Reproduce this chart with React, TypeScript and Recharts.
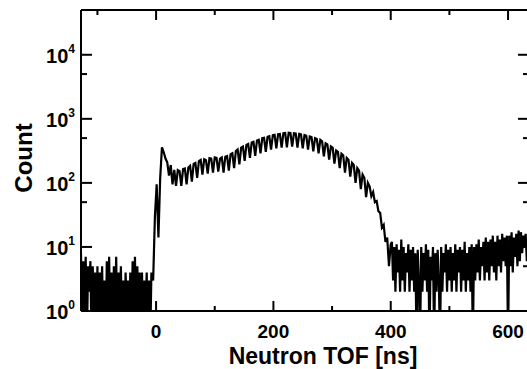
import { LineChart, Line, XAxis, YAxis } from 'recharts';

// histogram counts (0 = empty bin); bins are given per segment
const preStart = -128;
const preStep = 2;
const preCounts = [
  8, 0, 6, 1, 7, 0, 5, 2, 6, 0, 5, 1, 4, 0, 5, 0, 4, 1, 5, 0,
  3, 0, 6, 1, 7, 0, 4, 0, 5, 1, 7, 0, 4, 1, 5, 0, 3, 0, 4, 1,
  3, 0, 4, 0, 6, 1, 7, 0, 5, 1, 4, 0, 4, 0, 3, 1, 4, 0, 3, 0, 4,
];

const promptStart = -5;
const promptStep = 3;
const promptCounts = [3, 30, 95, 14, 120, 360, 300, 240, 210, 130, 190, 95];

const bumpStart = 31;
const bumpStep = 3;
const bumpCounts = [
  160, 90, 158, 152, 90, 164, 168, 95, 174,
  185, 105, 198, 205, 120, 218, 228, 135, 234,
  226, 140, 244, 240, 145, 250, 246, 150, 240,
  250, 145, 256, 262, 155, 280, 290, 170, 315,
  332, 195, 356, 370, 220, 392, 405, 245, 425,
  436, 265, 460, 472, 290, 500, 505, 305, 525,
  536, 330, 555, 562, 345, 576, 580, 355, 596,
  600, 360, 606, 600, 370, 596, 590, 355, 580,
  570, 345, 560, 545, 330, 530, 520, 310, 500,
  485, 290, 470, 445, 260, 415, 400, 230, 370,
  355, 200, 320, 305, 170, 285, 270, 145, 245,
  230, 125, 205, 190, 100, 170, 155, 80, 135,
  120, 60, 100,
];

const tailStart = 364;
const tailStep = 3;
const tailCounts = [88, 62, 72, 50, 52, 36, 34, 20, 22, 12, 14, 5, 11];

const bgStart = 402;
const bgStep = 2;
const bgCounts = [
  12, 3, 10, 2, 11, 4, 9, 2, 13, 3,
  10, 2, 8, 4, 11, 2, 9, 3, 10, 2,
  8, 0, 9, 3, 0, 10, 2, 8, 3, 11,
  2, 9, 0, 7, 3, 10, 0, 8, 2, 9,
  3, 0, 10, 2, 8, 4, 11, 2, 9, 3,
  10, 2, 8, 3, 11, 2, 9, 4, 10, 2,
  9, 3, 12, 2, 8, 3, 10, 2, 11, 0,
  10, 3, 11, 4, 13, 3, 10, 5, 12, 3,
  14, 4, 12, 3, 13, 5, 15, 4, 12, 3,
  15, 5, 13, 4, 16, 6, 14, 5, 15, 0,
  15, 5, 17, 4, 14, 7, 16, 5, 18, 6,
  17, 8, 15, 10, 16, 6, 12,
];

const xTicks = [-100, 0, 100, 200, 300, 400, 500, 600];
const xLabels = [0, 200, 400, 600];
const yTicks = [1, 5, 10, 50, 100, 500, 1000, 5000, 10000];
const yLabels = [1, 10, 100, 1000, 10000];

const segments: [number, number, number[]][] = [
  [preStart, preStep, preCounts],
  [promptStart, promptStep, promptCounts],
  [bumpStart, bumpStep, bumpCounts],
  [tailStart, tailStep, tailCounts],
  [bgStart, bgStep, bgCounts],
];

// empty bins can't sit on a log axis, park them below the floor (clipped)
const data = segments.flatMap(([start, step, counts]) =>
  counts.map((c, i) => ({ t: start + i * step, count: c > 0 ? c : 0.3 }))
);

const W = 530;
const H = 369;
const L = 81;
const R = 528;
const T = 10;
const B = 311;
const font = '"Liberation Sans", Arial, sans-serif';

const BottomTick = ({ x, payload }: any) => {
  const major = xLabels.includes(payload.value);
  return (
    <g>
      <line x1={x} x2={x} y1={B} y2={B - (major ? 10 : 5)} stroke="#000" strokeWidth={2} />
      {major && (
        <text x={x} y={338} textAnchor="middle" fontFamily={font} fontWeight="bold" fontSize={19} fill="#000">
          {payload.value}
        </text>
      )}
    </g>
  );
};

const TopTick = ({ x, payload }: any) => {
  const major = xLabels.includes(payload.value);
  return <line x1={x} x2={x} y1={T} y2={T + (major ? 10 : 5)} stroke="#000" strokeWidth={2} />;
};

const LeftTick = ({ y, payload }: any) => {
  const major = yLabels.includes(payload.value);
  return (
    <g>
      <line x1={L} x2={L + (major ? 11 : 6)} y1={y} y2={y} stroke="#000" strokeWidth={2} />
      {major && (
        <text x={75} y={y + 8} textAnchor="end" fontFamily={font} fontWeight="bold" fontSize={20} fill="#000">
          <tspan>10</tspan>
          <tspan dy={-10} fontSize={12}>{Math.round(Math.log10(payload.value))}</tspan>
        </text>
      )}
    </g>
  );
};

const RightTick = ({ y, payload }: any) => {
  const major = yLabels.includes(payload.value);
  return <line x1={R} x2={R - (major ? 10 : 5)} y1={y} y2={y} stroke="#000" strokeWidth={2} />;
};

const axisLine = { stroke: '#000', strokeWidth: 2 };

export default function App() {
  return (
    <div style={{ position: 'absolute', left: 0, top: 0, width: 527, height: H, overflow: 'hidden', background: '#fff' }}>
      <LineChart width={W} height={H} data={data} margin={{ top: T - 1, right: W - R - 1, bottom: H - B - 1, left: L - 1 }}>
        <XAxis
          xAxisId="b"
          dataKey="t"
          type="number"
          domain={[-128, 634]}
          ticks={xTicks}
          interval={0}
          height={1}
          tickLine={false}
          tick={<BottomTick />}
          axisLine={axisLine}
          allowDataOverflow
        />
        <XAxis
          xAxisId="t"
          orientation="top"
          dataKey="t"
          type="number"
          domain={[-128, 634]}
          ticks={xTicks}
          interval={0}
          height={1}
          tickLine={false}
          tick={<TopTick />}
          axisLine={axisLine}
          allowDataOverflow
        />
        <YAxis
          yAxisId="l"
          scale="log"
          type="number"
          domain={[1, 50000]}
          ticks={yTicks}
          interval={0}
          width={1}
          tickLine={false}
          tick={<LeftTick />}
          axisLine={axisLine}
          allowDataOverflow
        />
        <YAxis
          yAxisId="r"
          orientation="right"
          scale="log"
          type="number"
          domain={[1, 50000]}
          ticks={yTicks}
          interval={0}
          width={1}
          tickLine={false}
          tick={<RightTick />}
          axisLine={axisLine}
          allowDataOverflow
        />
        <Line
          xAxisId="b"
          yAxisId="l"
          dataKey="count"
          type="linear"
          stroke="#000"
          strokeWidth={2.2}
          dot={false}
          isAnimationActive={false}
        />
        <text x={323} y={364} textAnchor="middle" fontFamily={font} fontWeight="bold" fontSize={23} fill="#000">
          Neutron TOF [ns]
        </text>
        <text
          x={32}
          y={158}
          transform="rotate(-90 32 158)"
          textAnchor="middle"
          fontFamily={font}
          fontWeight="bold"
          fontSize={24}
          fill="#000"
        >
          Count
        </text>
      </LineChart>
    </div>
  );
}
